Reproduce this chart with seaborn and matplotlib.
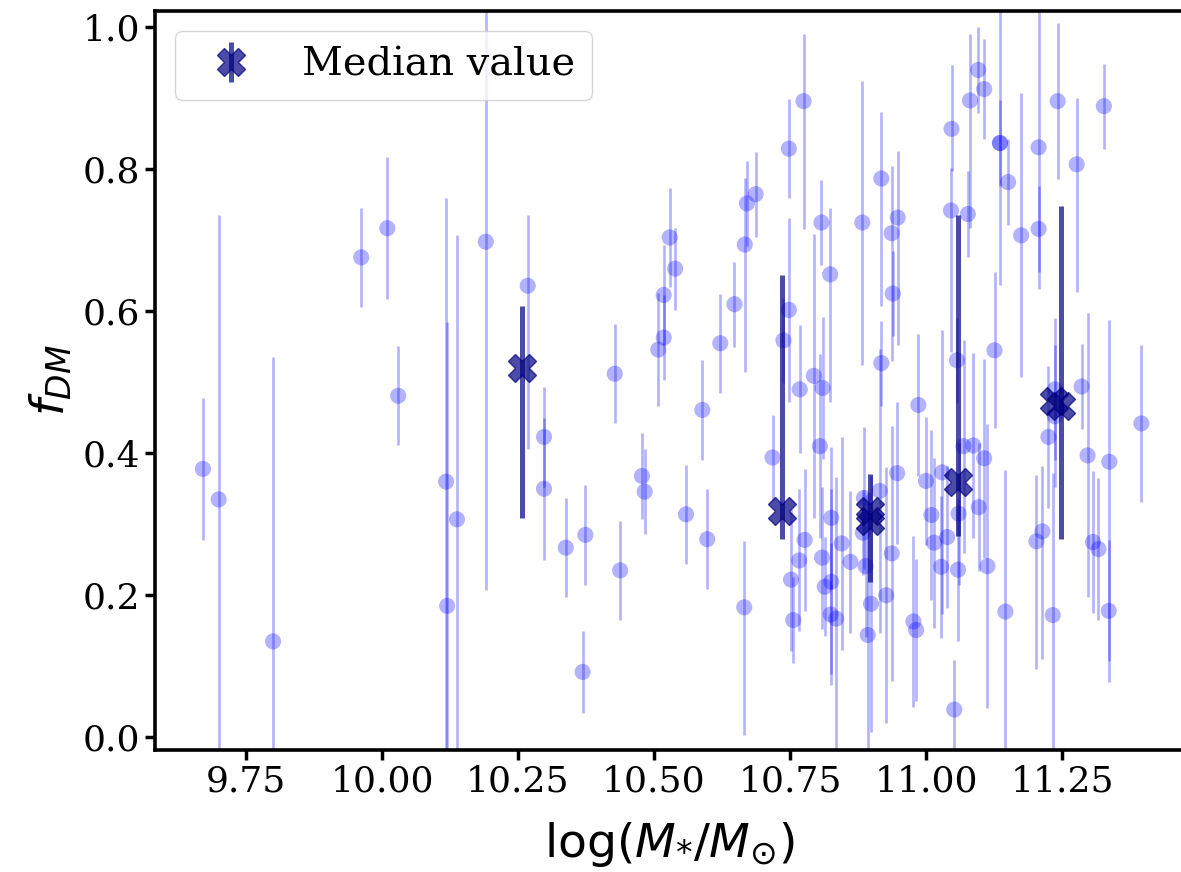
import numpy as np
import pandas as pd
import seaborn as sns
import matplotlib
matplotlib.use("Agg")
import matplotlib.pyplot as plt

"""Data read off the figure"""

# stellar mass (log) of each galaxy
gal_x = [9.671, 9.700, 9.800, 9.962, 10.010, 10.030, 10.118, 10.120, 10.138, 10.191,
         10.268, 10.298, 10.298, 10.338, 10.374, 10.369, 10.438, 10.428, 10.478, 10.483,
         10.529, 10.539, 10.518, 10.518, 10.508, 10.622, 10.648, 10.667, 10.671, 10.687,
         10.748, 10.775, 10.748, 10.738, 10.808, 10.824, 10.883, 10.918, 10.948, 10.937,
         10.939, 10.918, 11.047, 11.046, 11.057, 11.077, 11.081, 11.096, 11.107, 11.136,
         11.136, 11.151, 11.126, 11.175, 11.207, 11.207, 11.242, 11.277, 11.327, 11.286,
         10.794, 10.768, 10.810, 10.986, 10.589, 10.559, 10.598, 10.666, 10.718, 10.805,
         10.826, 10.777, 10.767, 10.752, 10.756, 10.809, 10.814, 10.826, 10.825, 10.835,
         10.845, 10.861, 10.886, 10.884, 10.889, 10.899, 10.893, 10.915, 10.937, 10.927,
         10.947, 11.000, 11.010, 11.015, 11.028, 11.039, 11.030, 10.977, 10.982, 11.052,
         11.059, 11.060, 11.069, 11.087, 11.107, 11.097, 11.113, 11.146, 11.203, 11.214,
         11.225, 11.237, 11.237, 11.233, 11.297, 11.307, 11.317, 11.337, 11.336, 11.396]

# dark matter fraction of each galaxy
gal_y = [0.378, 0.335, 0.135, 0.676, 0.717, 0.481, 0.360, 0.185, 0.307, 0.698,
         0.636, 0.423, 0.350, 0.267, 0.285, 0.092, 0.235, 0.512, 0.368, 0.346,
         0.704, 0.660, 0.623, 0.563, 0.546, 0.555, 0.610, 0.694, 0.752, 0.765,
         0.829, 0.896, 0.602, 0.559, 0.725, 0.652, 0.725, 0.787, 0.732, 0.710,
         0.625, 0.527, 0.857, 0.742, 0.531, 0.737, 0.897, 0.940, 0.913, 0.837,
         0.837, 0.782, 0.545, 0.707, 0.831, 0.716, 0.896, 0.807, 0.889, 0.494,
         0.509, 0.490, 0.492, 0.468, 0.461, 0.314, 0.279, 0.183, 0.394, 0.410,
         0.309, 0.278, 0.249, 0.222, 0.165, 0.253, 0.212, 0.219, 0.173, 0.167,
         0.273, 0.247, 0.337, 0.288, 0.241, 0.188, 0.144, 0.347, 0.259, 0.200,
         0.372, 0.361, 0.313, 0.274, 0.240, 0.282, 0.373, 0.163, 0.151, 0.039,
         0.236, 0.315, 0.410, 0.411, 0.393, 0.324, 0.241, 0.177, 0.276, 0.290,
         0.423, 0.452, 0.490, 0.172, 0.397, 0.275, 0.265, 0.388, 0.178, 0.442]

gal_err_lo = [0.10, 0.40, 0.40, 0.07, 0.10, 0.07, 0.40, 0.40, 0.40, 0.49,
              0.23, 0.07, 0.10, 0.07, 0.07, 0.058, 0.07, 0.07, 0.06, 0.06,
              0.07, 0.058, 0.07, 0.06, 0.08, 0.07, 0.06, 0.18, 0.06, 0.06,
              0.07, 0.18, 0.13, 0.06, 0.06, 0.18, 0.20, 0.18, 0.18, 0.18,
              0.06, 0.06, 0.06, 0.20, 0.06, 0.06, 0.18, 0.06, 0.07, 0.06,
              0.20, 0.06, 0.11, 0.20, 0.20, 0.06, 0.11, 0.18, 0.06, 0.06,
              0.20, 0.09, 0.10, 0.10, 0.07, 0.07, 0.07, 0.18, 0.06, 0.13,
              0.10, 0.10, 0.10, 0.10, 0.06, 0.10, 0.07, 0.13, 0.10, 0.20,
              0.15, 0.10, 0.10, 0.06, 0.10, 0.18, 0.20, 0.20, 0.18, 0.18,
              0.10, 0.09, 0.12, 0.12, 0.10, 0.10, 0.20, 0.12, 0.10, 0.07,
              0.10, 0.10, 0.15, 0.13, 0.14, 0.09, 0.20, 0.20, 0.18, 0.18,
              0.10, 0.10, 0.10, 0.28, 0.20, 0.10, 0.10, 0.28, 0.10, 0.11]

gal_err_hi = [0.10, 0.40, 0.40, 0.07, 0.10, 0.07, 0.40, 0.40, 0.40, 0.49,
              0.10, 0.07, 0.10, 0.07, 0.07, 0.058, 0.07, 0.07, 0.06, 0.06,
              0.07, 0.058, 0.07, 0.06, 0.08, 0.07, 0.06, 0.094, 0.06, 0.06,
              0.07, 0.094, 0.13, 0.06, 0.06, 0.094, 0.20, 0.094, 0.094, 0.094,
              0.06, 0.06, 0.09, 0.06, 0.06, 0.06, 0.094, 0.06, 0.07, 0.06,
              0.20, 0.06, 0.11, 0.20, 0.20, 0.06, 0.11, 0.094, 0.06, 0.06,
              0.20, 0.09, 0.10, 0.10, 0.07, 0.07, 0.07, 0.093, 0.06, 0.13,
              0.10, 0.10, 0.10, 0.10, 0.06, 0.10, 0.07, 0.13, 0.10, 0.20,
              0.15, 0.10, 0.10, 0.06, 0.10, 0.18, 0.20, 0.20, 0.18, 0.18,
              0.10, 0.09, 0.12, 0.12, 0.10, 0.10, 0.20, 0.12, 0.10, 0.07,
              0.10, 0.10, 0.15, 0.13, 0.14, 0.09, 0.20, 0.20, 0.093, 0.092,
              0.10, 0.10, 0.10, 0.20, 0.20, 0.10, 0.10, 0.20, 0.10, 0.11]

# binned medians with their lower / upper bounds
med_x = [10.257, 10.735, 10.897, 11.059, 11.248]
med_y = [0.520, 0.319, 0.319, 0.360, 0.466]
med_low = [0.309, 0.279, 0.219, 0.283, 0.279]
med_high = [0.608, 0.651, 0.371, 0.736, 0.749]

# second marker drawn slightly offset in two bins
med2_x = [10.897, 11.235]
med2_y = [0.305, 0.473]

df = pd.DataFrame({'logm': gal_x, 'fdm': gal_y})

plt.rcParams['font.family'] = 'DejaVu Serif'
plt.rcParams['mathtext.fontset'] = 'dejavusans'

fig = plt.figure(figsize=(11.81, 8.72), dpi=100)
# right spine falls outside the picture, as in the original crop
ax = fig.add_axes([155 / 1181, 1 - 750 / 872, (1200 - 155) / 1181, (750 - 11) / 872])

# individual galaxies
ax.errorbar(gal_x, gal_y, yerr=[gal_err_lo, gal_err_hi], fmt='none',
            ecolor='blue', alpha=0.3, elinewidth=1.9)
sns.scatterplot(data=df, x='logm', y='fdm', color='blue', alpha=0.3, s=135,
                edgecolor='none', ax=ax, legend=False, zorder=3)

# medians
med_err = [np.array(med_y) - np.array(med_low), np.array(med_high) - np.array(med_y)]
ax.errorbar(med_x, med_y, yerr=med_err, fmt='X', color='navy', alpha=0.7,
            ms=20, elinewidth=3.6, capsize=0, label='Median value', zorder=5)
ax.plot(med2_x, med2_y, 'X', color='navy', alpha=0.7, ms=20, ls='none', zorder=5)

ax.set_xlim(9.583, 9.75 + (1200 - 246) / 544)
ax.set_ylim(-0.018, 1.023)
ax.set_xticks([9.75, 10.0, 10.25, 10.5, 10.75, 11.0, 11.25])
ax.set_xticklabels(['9.75', '10.00', '10.25', '10.50', '10.75', '11.00', '11.25'])
ax.set_yticks([0.0, 0.2, 0.4, 0.6, 0.8, 1.0])
ax.set_yticklabels(['0.0', '0.2', '0.4', '0.6', '0.8', '1.0'])

ax.set_xlabel(r'log($M_{*}/M_{\odot}$)', fontsize=34, family='DejaVu Sans')
ax.set_ylabel(r'$f_{DM}$', fontsize=34, family='DejaVu Sans', labelpad=6)
ax.xaxis.set_label_coords((670 - 155) / (1200 - 155), -0.095)
ax.tick_params(labelsize=26, width=2.5, length=7)
for sp in ax.spines.values():
    sp.set_linewidth(2.6)

ax.legend(loc='upper left', fontsize=28.7)

fig.savefig('out.png', dpi=100)
